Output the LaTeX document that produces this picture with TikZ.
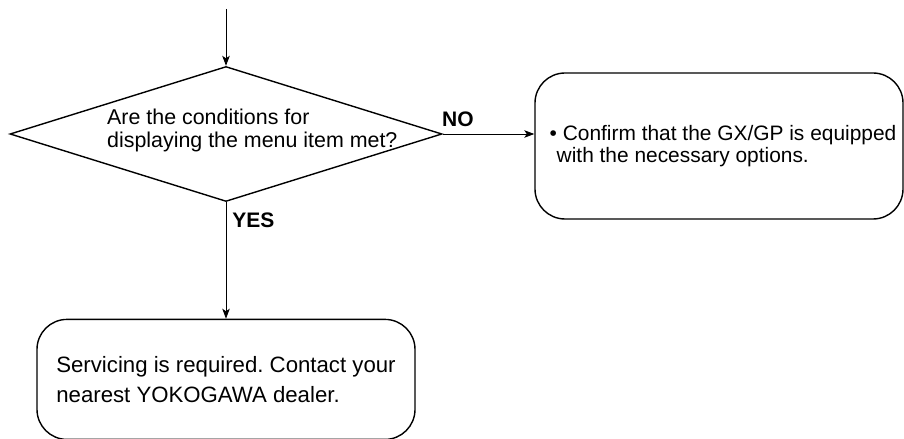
\documentclass[tikz,border=0pt]{standalone}
\usepackage{fontspec}
\setmainfont{Liberation Sans}
\frenchspacing
\usetikzlibrary{arrows.meta, positioning, shapes.geometric}

\begin{document}
\begin{tikzpicture}[
  x=1bp, y=-1bp,
  node distance=116bp,
  decision/.style={draw, diamond, line width=1.4bp, inner sep=0pt,
                   minimum width=432bp, minimum height=135bp},
  box/.style={draw, rounded corners=30bp, line width=1.4bp, align=left, inner sep=0pt},
  qtext/.style={align=left, inner sep=0pt, font=\fontsize{21.4bp}{23bp}\selectfont},
  flow/.style={-{Stealth[length=10bp, width=7.5bp, inset=2.5bp]}, line width=0.9bp},
  lbl/.style={inner sep=0pt, font=\fontsize{21bp}{21bp}\selectfont\bfseries}
]
\useasboundingbox (0,0) rectangle (904,439);

\coordinate (entry) at (226,9);
\node[decision] (cond) at (226,134) {};
\node[qtext, anchor=west] (condtext) at (107,130)
  {Are the conditions for\\displaying the menu item met?};

% leading space pushes the centred text a little right, as in the original
\node[box, minimum width=368bp, minimum height=146bp,
      font=\fontsize{20.9bp}{22bp}\selectfont] (opts) at (719,146)
  {\hspace*{8bp}\textbullet{} Confirm that the GX/GP is equipped\\\hspace*{15bp}with the necessary options.};
\node[box, below=116.5bp of cond, minimum width=378bp, minimum height=120bp,
      font=\fontsize{22.2bp}{30bp}\selectfont] (svc)
  {Servicing is required. Contact your\\nearest YOKOGAWA dealer.};

\draw[flow] (entry) -- (cond.north);
\draw[flow] (cond.east) -- node[lbl, pos=0, anchor=base west, xshift=-1bp, yshift=7bp] {NO}
  (cond.east -| opts.west);
\draw[flow] (cond.south) -- node[lbl, pos=0, anchor=base west, xshift=6bp, yshift=-25.5bp] {YES}
  (svc.north);

\end{tikzpicture}
\end{document}
